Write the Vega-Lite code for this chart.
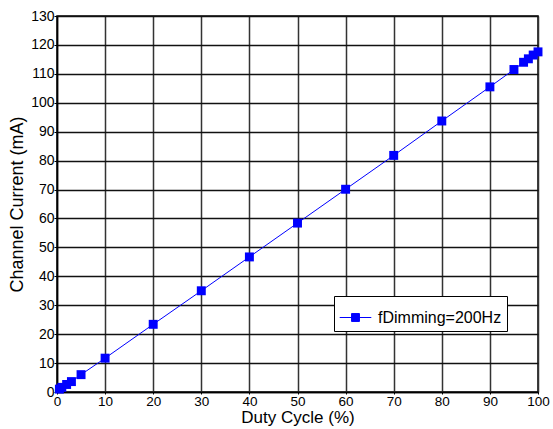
{
  "$schema": "https://vega.github.io/schema/vega-lite/v6.json",
  "width": 481,
  "height": 376,
  "autosize": {"type": "none"},
  "padding": {"left": 57, "top": 16, "right": 15, "bottom": 37},
  "background": "white",
  "config": {
    "font": "Liberation Sans",
    "view": {"stroke": "black", "strokeWidth": 1.5}
  },
  "data": {
    "values": [
      {"duty": 0.5, "current": 1.0, "series": "fDimming=200Hz"},
      {"duty": 1, "current": 1.6, "series": "fDimming=200Hz"},
      {"duty": 2, "current": 2.6, "series": "fDimming=200Hz"},
      {"duty": 3, "current": 3.6, "series": "fDimming=200Hz"},
      {"duty": 5, "current": 6.0, "series": "fDimming=200Hz"},
      {"duty": 10, "current": 11.7, "series": "fDimming=200Hz"},
      {"duty": 20, "current": 23.4, "series": "fDimming=200Hz"},
      {"duty": 30, "current": 35.0, "series": "fDimming=200Hz"},
      {"duty": 40, "current": 46.7, "series": "fDimming=200Hz"},
      {"duty": 50, "current": 58.4, "series": "fDimming=200Hz"},
      {"duty": 60, "current": 70.1, "series": "fDimming=200Hz"},
      {"duty": 70, "current": 81.8, "series": "fDimming=200Hz"},
      {"duty": 80, "current": 93.7, "series": "fDimming=200Hz"},
      {"duty": 90, "current": 105.5, "series": "fDimming=200Hz"},
      {"duty": 95, "current": 111.5, "series": "fDimming=200Hz"},
      {"duty": 97, "current": 114.0, "series": "fDimming=200Hz"},
      {"duty": 98, "current": 115.2, "series": "fDimming=200Hz"},
      {"duty": 99, "current": 116.5, "series": "fDimming=200Hz"},
      {"duty": 100, "current": 117.6, "series": "fDimming=200Hz"}
    ]
  },
  "encoding": {
    "x": {
      "field": "duty", "type": "quantitative",
      "scale": {"domain": [0, 100], "nice": false, "zero": true},
      "axis": {
        "title": "Duty Cycle (%)", "titleFontSize": 17, "titleFontWeight": "normal", "titleColor": "#000", "titlePadding": 2,
        "values": [0, 10, 20, 30, 40, 50, 60, 70, 80, 90, 100],
        "labelFontSize": 13.5, "labelColor": "#000", "labelPadding": 0, "labelFlush": false,
        "tickSize": 2, "tickColor": "#000",
        "domainColor": "#000", "domainWidth": 1.5,
        "grid": true, "gridColor": "#333", "gridWidth": 1.5
      }
    },
    "y": {
      "field": "current", "type": "quantitative",
      "scale": {"domain": [0, 130], "nice": false},
      "axis": {
        "title": "Channel Current (mA)", "titleFontSize": 18, "titleFontWeight": "normal", "titleColor": "#000", "titlePadding": 4,
        "values": [0, 10, 20, 30, 40, 50, 60, 70, 80, 90, 100, 110, 120, 130],
        "labelFontSize": 14, "labelColor": "#000", "labelPadding": 0, "labelFlush": false,
        "tickSize": 3, "tickColor": "#000",
        "domainColor": "#000", "domainWidth": 1.5,
        "grid": true, "gridColor": "#111", "gridWidth": 1.5
      }
    },
    "color": {
      "field": "series", "type": "nominal",
      "scale": {"range": ["#0000ff"]},
      "legend": {
        "title": null, "orient": "none", "legendX": 277, "legendY": 280,
        "strokeColor": "#000", "fillColor": "white", "padding": 5,
        "labelFontSize": 16, "labelColor": "#000", "labelOffset": 6,
        "symbolType": "M-1,0H-0.25M0.25,0H1M-0.25,-0.25H0.25V0.25H-0.25Z",
        "symbolSize": 1000, "symbolStrokeWidth": 1,
        "symbolFillColor": "#0000ff", "symbolStrokeColor": "#0000ff"
      }
    }
  },
  "layer": [
    {"mark": {"type": "line", "strokeWidth": 1}},
    {"mark": {"type": "square", "size": 80, "opacity": 1, "filled": true}}
  ]
}
